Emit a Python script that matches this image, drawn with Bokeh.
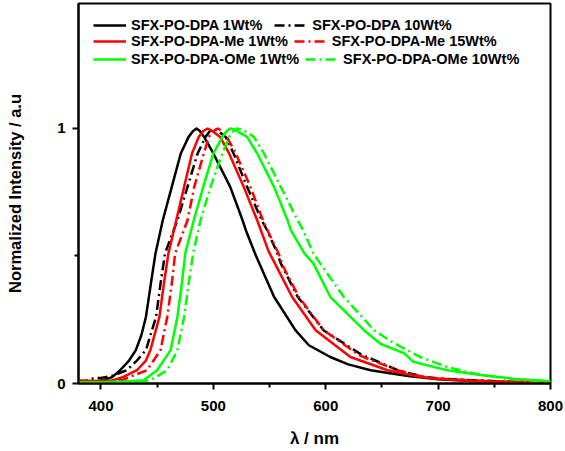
from bokeh.plotting import figure
from bokeh.models import Range1d, Legend, LegendItem, FixedTicker
from bokeh.embed import file_html
from bokeh.resources import INLINE

# ---- data ----
wl_dpa1 = [380, 395, 402, 410, 417, 425, 431, 436, 440, 444, 448.5, 455, 463, 471, 478, 482, 485,
           488, 492, 500, 515, 526, 529, 538, 554, 573, 585, 604, 620, 640, 660, 675, 700, 730, 760, 800]
int_dpa1 = [0.005, 0.008, 0.013, 0.025, 0.052, 0.09, 0.131, 0.19, 0.261, 0.38, 0.51, 0.64, 0.771, 0.902, 0.967, 0.99, 1.0,
            0.99, 0.965, 0.902, 0.771, 0.64, 0.60, 0.50, 0.34, 0.209, 0.15, 0.104, 0.075, 0.052, 0.038, 0.028, 0.017, 0.01, 0.006, 0.004]

wl_dpa10 = [380, 386, 393, 400, 410, 423, 432, 440, 449, 453, 457, 468, 477, 486, 493, 497, 500,
            504, 511, 518, 530, 543, 548, 557, 560, 575, 598, 631, 664, 687, 700, 730, 760, 800]
int_dpa10 = [0.0, 0.01, 0.02, 0.022, 0.03, 0.052, 0.09, 0.131, 0.261, 0.392, 0.51, 0.64, 0.771, 0.902, 0.967, 0.99, 1.0,
             0.99, 0.967, 0.902, 0.771, 0.64, 0.60, 0.51, 0.471, 0.34, 0.209, 0.115, 0.052, 0.026, 0.02, 0.013, 0.008, 0.005]

wl_me1 = [380, 395, 410, 420, 432, 440, 444, 452, 456, 460, 467, 474, 481, 487, 491, 495,
          499, 506, 514, 527, 539, 549, 556, 570, 591, 622, 655, 684, 700, 730, 760, 800]
int_me1 = [0.012, 0.01, 0.012, 0.026, 0.052, 0.09, 0.131, 0.261, 0.392, 0.51, 0.64, 0.771, 0.902, 0.967, 0.99, 1.0,
           0.99, 0.967, 0.902, 0.771, 0.64, 0.52, 0.46, 0.34, 0.209, 0.104, 0.052, 0.026, 0.018, 0.01, 0.006, 0.004]

wl_me15 = [380, 395, 410, 420, 428, 441, 453, 459, 463, 466, 477, 483, 491.5, 496, 500, 504,
           508, 512, 520, 533, 545, 558, 562, 576, 598, 630, 664, 687, 700, 730, 760, 800]
int_me15 = [0.01, 0.008, 0.01, 0.015, 0.03, 0.052, 0.131, 0.261, 0.392, 0.51, 0.64, 0.771, 0.902, 0.967, 0.99, 1.0,
            0.99, 0.967, 0.902, 0.771, 0.63, 0.51, 0.46, 0.34, 0.209, 0.11, 0.052, 0.026, 0.02, 0.012, 0.008, 0.005]

wl_ome1 = [380, 400, 420, 438, 450, 462, 468, 472, 475, 482.6, 491, 500, 508, 512, 515,
           519, 525, 530, 539, 554, 566, 569, 581, 589, 604, 634, 649, 670, 678, 693, 708, 738, 767, 797, 800]
int_ome1 = [0.005, 0.005, 0.008, 0.013, 0.052, 0.131, 0.261, 0.392, 0.51, 0.64, 0.771, 0.902, 0.967, 0.99, 1.0,
            0.995, 0.98, 0.967, 0.902, 0.771, 0.64, 0.60, 0.51, 0.471, 0.34, 0.209, 0.155, 0.118, 0.085, 0.068, 0.052, 0.033, 0.019, 0.01, 0.01]

wl_ome10 = [380, 400, 430, 444, 459, 468, 474, 478, 482, 488.6, 497.5, 508, 514, 518, 521,
            525, 530, 536, 545, 560, 575, 580, 589, 595, 616, 643, 660, 684, 708, 738, 767, 797, 800]
int_ome10 = [0.0, 0.0, 0.005, 0.013, 0.052, 0.131, 0.261, 0.392, 0.51, 0.64, 0.771, 0.902, 0.967, 0.99, 1.0,
             0.995, 0.985, 0.967, 0.902, 0.771, 0.64, 0.60, 0.51, 0.471, 0.34, 0.209, 0.16, 0.104, 0.065, 0.033, 0.016, 0.008, 0.008]

labels = ["SFX-PO-DPA 1Wt%", "SFX-PO-DPA 10Wt%",
          "SFX-PO-DPA-Me 1Wt%", "SFX-PO-DPA-Me 15Wt%",
          "SFX-PO-DPA-OMe 1Wt%", "SFX-PO-DPA-OMe 10Wt%"]

x_ticks = [400, 500, 600, 700, 800]
y_ticks = [0, 1]

FONT = "Liberation Sans"

p = figure(width=565, height=451, output_backend="svg", toolbar_location=None,
           x_range=Range1d(380, 800), y_range=Range1d(0, 1.49),
           min_border_left=78, min_border_right=15, min_border_top=3, min_border_bottom=68)
p.grid.visible = False
p.background_fill_color = "white"
p.border_fill_color = "white"
p.outline_line_color = "black"
p.outline_line_width = 2

series = [
    (wl_dpa1, int_dpa1, "black", "solid"),
    (wl_dpa10, int_dpa10, "black", "10 4 2 4"),
    (wl_me1, int_me1, "red", "solid"),
    (wl_me15, int_me15, "red", "10 4 2 4"),
    (wl_ome1, int_ome1, "#00ff00", "solid"),
    (wl_ome10, int_ome10, "#00ff00", "10 4 2 4"),
]
renderers = []
for xs, ys, c, d in series:
    r = p.line(xs, ys, line_color=c, line_width=2.5, line_dash=d, line_join="round")
    renderers.append(r)

# axes
p.xaxis.ticker = FixedTicker(ticks=x_ticks, minor_ticks=[450, 550, 650, 750])
p.yaxis.ticker = FixedTicker(ticks=y_ticks, minor_ticks=[0.5])
for ax in (p.xaxis[0], p.yaxis[0]):
    ax.axis_line_width = 2
    ax.major_tick_line_width = 2
    ax.minor_tick_line_width = 2
    ax.major_tick_out = 6
    ax.major_tick_in = 0
    ax.minor_tick_out = 4
    ax.minor_tick_in = 0
    ax.major_label_text_font = FONT
    ax.major_label_text_font_style = "bold"
    ax.major_label_text_font_size = "15px"
    ax.major_label_text_color = "black"
    ax.axis_label_text_font = FONT
    ax.axis_label_text_font_style = "bold"
    ax.axis_label_text_color = "black"
p.xaxis.axis_label = "λ / nm"
p.yaxis.axis_label = "Normalized Intensity / a.u"
p.xaxis.axis_label_text_font_size = "17px"
p.yaxis.axis_label_text_font_size = "16.5px"
p.xaxis.major_label_standoff = 11
p.xaxis.axis_label_standoff = 15
p.yaxis.major_label_standoff = 7
p.yaxis.axis_label_standoff = 30

# legends: three horizontal rows
row_y = [349, 333, 315]
row_spacing = [12, 6, 6]
for i in range(3):
    items = [LegendItem(label=labels[2 * i], renderers=[renderers[2 * i]]),
             LegendItem(label=labels[2 * i + 1], renderers=[renderers[2 * i + 1]])]
    leg = Legend(items=items, orientation="horizontal", location=(15, row_y[i]),
                 padding=0, margin=0, spacing=row_spacing[i], label_standoff=5,
                 glyph_width=33, glyph_height=18, label_height=18,
                 border_line_alpha=0, background_fill_alpha=0,
                 label_text_font=FONT, label_text_font_style="bold",
                 label_text_font_size="14.5px", label_text_color="black")
    p.add_layout(leg)

open("out.html", "w").write(file_html(p, INLINE))
